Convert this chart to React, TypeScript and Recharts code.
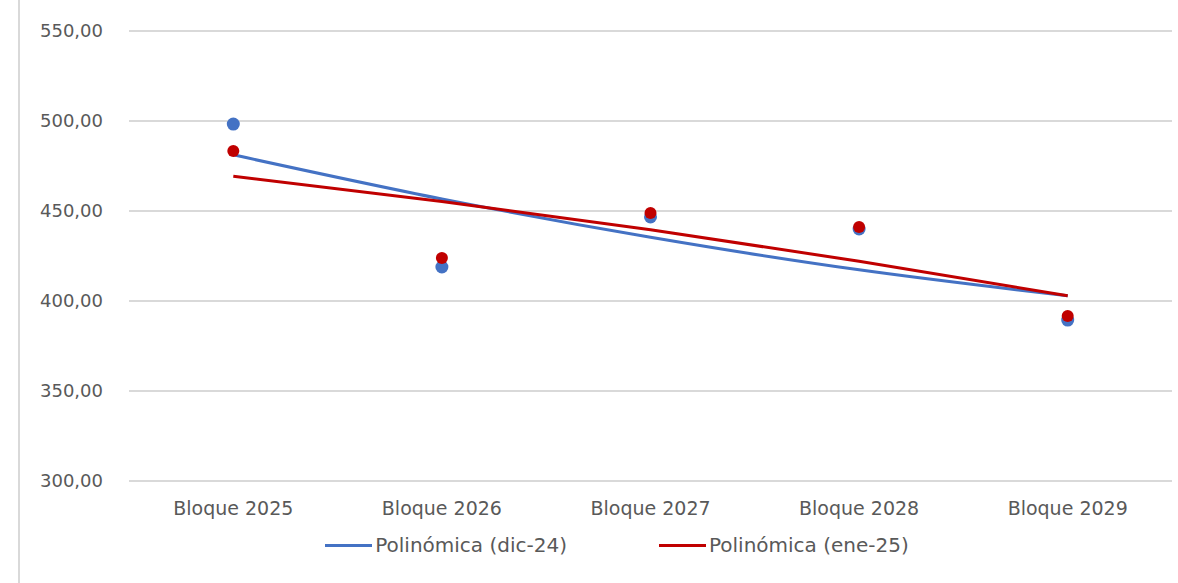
import { ComposedChart, Line, Scatter, XAxis, YAxis, CartesianGrid, Legend } from "recharts";

const bloques = ["Bloque 2025", "Bloque 2026", "Bloque 2027", "Bloque 2028", "Bloque 2029"];
const dic24 = [498.3, 418.9, 446.7, 440.0, 389.4];
const ene25 = [483.3, 423.9, 448.9, 441.1, 391.7];
// trend values
const trendDic24 = [481.2, 456.7, 435.4, 417.3, 402.9];
const trendEne25 = [469.3, 455.3, 439.6, 422.1, 402.9];
const yTicks = [300, 350, 400, 450, 500, 550];

const BLUE = "#4472C4";
const RED = "#C00000";
const GREY = "#595959";
const FONT = "'DejaVu Sans', sans-serif";

const data = bloques.map((b, i) => ({
  bloque: b,
  dic24: dic24[i],
  ene25: ene25[i],
  trendDic24: trendDic24[i],
  trendEne25: trendEne25[i],
}));

const fmt = (v: number) => v.toFixed(2).replace(".", ",");

const LegendContent = () => {
  const items = [
    { label: "Polinómica (dic-24)", color: BLUE },
    { label: "Polinómica (ene-25)", color: RED },
  ];
  return (
    <div
      style={{
        display: "flex",
        justifyContent: "center",
        gap: 92,
        fontFamily: FONT,
        fontSize: 20,
        color: GREY,
        lineHeight: "23px",
        paddingLeft: 62,
      }}
    >
      {items.map((it) => (
        <div key={it.label} style={{ display: "flex", alignItems: "center" }}>
          <span style={{ display: "inline-block", width: 47, height: 3, background: it.color, marginRight: 3 }} />
          <span>{it.label}</span>
        </div>
      ))}
    </div>
  );
};

const Dot = ({ cx, cy, fill, r }: any) => <circle cx={cx} cy={cy} r={r} fill={fill} />;

export default function App() {
  return (
    <div style={{ position: "absolute", left: 0, top: 0, width: 1178, height: 583, background: "#fff" }}>
      <div style={{ position: "absolute", left: 18, top: 0, width: 2, height: 583, background: "#d9d9d9" }} />
      <ComposedChart width={1178} height={583} data={data} margin={{ top: 31, right: 6, left: 0, bottom: 26 }}>
        <CartesianGrid vertical={false} stroke="#d9d9d9" strokeWidth={2} />
        <XAxis
          dataKey="bloque"
          scale="band"
          axisLine={false}
          tickLine={false}
          tickMargin={15}
          height={53}
          tick={{ fontSize: 19, fill: GREY, fontFamily: FONT }}
        />
        <YAxis
          domain={[300, 550]}
          ticks={yTicks}
          width={129}
          axisLine={false}
          tickLine={false}
          tickMargin={20}
          tickFormatter={fmt}
          tick={{ fontSize: 18, fill: GREY, fontFamily: FONT }}
        />
        <Scatter dataKey="dic24" fill={BLUE} legendType="none" isAnimationActive={false} shape={<Dot r={6.5} />} />
        <Scatter dataKey="ene25" fill={RED} legendType="none" isAnimationActive={false} shape={<Dot r={6} />} />
        <Line
          type="monotone"
          dataKey="trendDic24"
          stroke={BLUE}
          strokeWidth={3}
          dot={false}
          activeDot={false}
          isAnimationActive={false}
        />
        <Line
          type="monotone"
          dataKey="trendEne25"
          stroke={RED}
          strokeWidth={3}
          dot={false}
          activeDot={false}
          isAnimationActive={false}
        />
        <Legend verticalAlign="bottom" content={<LegendContent />} />
      </ComposedChart>
    </div>
  );
}
